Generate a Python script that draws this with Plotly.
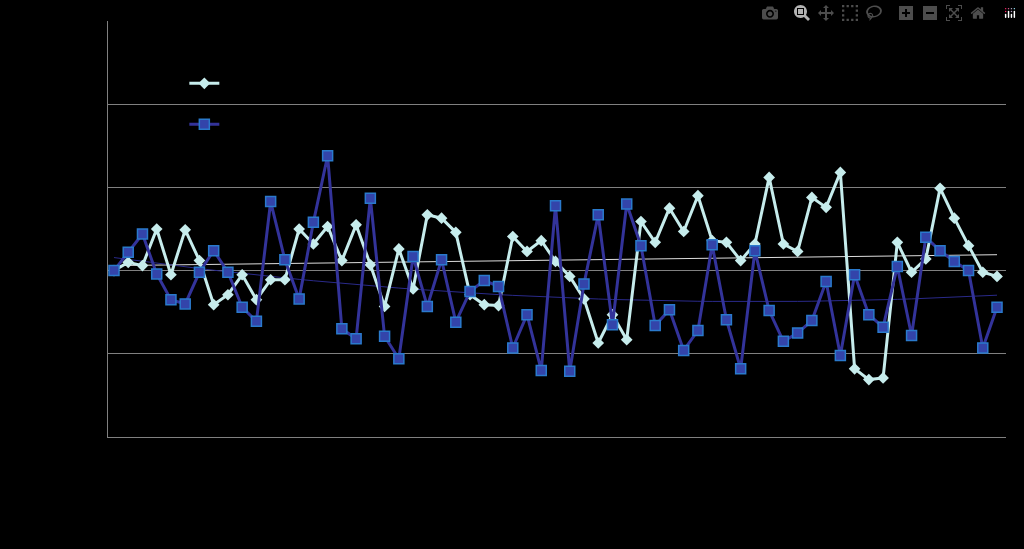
import numpy as np
import plotly.graph_objects as go

s1 = [0,0.10,0.06,0.50,-0.05,0.49,0.12,-0.41,-0.29,-0.05,-0.35,-0.11,-0.11,0.50,0.32,0.53,0.12,0.55,0.07,-0.43,0.26,-0.22,0.67,0.63,0.46,-0.29,-0.41,-0.42,0.41,0.23,0.36,0.11,-0.07,-0.34,-0.87,-0.53,-0.83,0.59,0.34,0.75,0.47,0.90,0.36,0.34,0.12,0.32,1.12,0.32,0.23,0.88,0.76,1.18,-1.18,-1.31,-1.29,0.34,-0.02,0.14,0.99,0.63,0.30,-0.02,-0.07]
s2 = [0,0.22,0.44,-0.04,-0.35,-0.40,-0.02,0.24,-0.02,-0.44,-0.61,0.83,0.13,-0.34,0.58,1.38,-0.70,-0.82,0.87,-0.79,-1.06,0.17,-0.43,0.13,-0.62,-0.25,-0.12,-0.19,-0.93,-0.53,-1.20,0.78,-1.21,-0.16,0.67,-0.65,0.80,0.30,-0.66,-0.47,-0.96,-0.72,0.31,-0.59,-1.18,0.24,-0.48,-0.85,-0.75,-0.60,-0.13,-1.02,-0.05,-0.53,-0.68,0.05,-0.78,0.40,0.24,0.11,0,-0.93,-0.44]
names = ["Series1", "Series2"]
x = np.arange(len(s1))

fig = go.Figure()
t1 = np.polyval(np.polyfit(x, s1, 1), x)
t2 = np.polyval(np.polyfit(x, s2, 2), x)
fig.add_trace(go.Scatter(x=x, y=t1, mode="lines", line=dict(color="#dddddd", width=1), showlegend=False))
fig.add_trace(go.Scatter(x=x, y=t2, mode="lines", line=dict(color="#2a2a8a", width=1), showlegend=False))
fig.add_trace(go.Scatter(x=x, y=s1, name=names[0], legendgroup="a", mode="lines+markers",
                         line=dict(color="#c6ecec", width=3),
                         marker=dict(symbol="diamond", size=9, color="#c6ecec")))
fig.add_trace(go.Scatter(x=x, y=s2, name=names[1], legendgroup="b", mode="lines+markers",
                         line=dict(color="#33339a", width=3),
                         marker=dict(symbol="square", size=10, color="#3344aa",
                                     line=dict(color="#2a7acc", width=1.5))))
fig.update_layout(
    width=1024, height=549, paper_bgcolor="black", plot_bgcolor="black",
    margin=dict(l=108, r=18, t=21, b=112),
    legend=dict(x=0.085, y=0.885, xanchor="left", yanchor="top", bgcolor="rgba(0,0,0,0)",
                font=dict(color="black", size=12), tracegroupgap=22),
    xaxis=dict(range=[-0.42, 62.63], showgrid=False, showticklabels=False, zeroline=False,
               showline=True, linecolor="#808080", ticks=""),
    yaxis=dict(range=[-2, 3], dtick=1, showgrid=True, gridcolor="#808080", showticklabels=False,
               zeroline=False, showline=True, linecolor="#808080", ticks=""),
)
fig.write_html("out.html", post_script="document.body.style.margin='0';document.body.style.background='black';")
